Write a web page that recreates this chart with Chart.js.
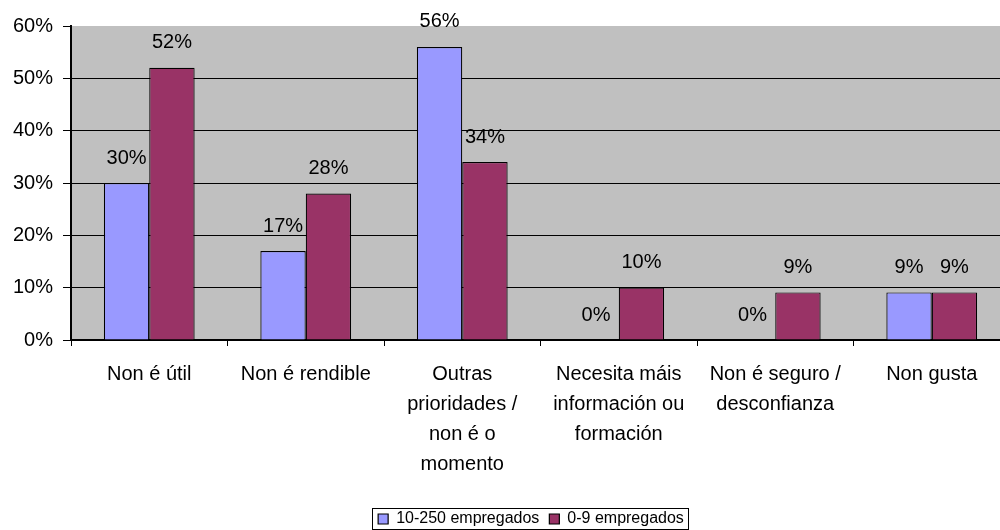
<!DOCTYPE html>
<html>
<head>
<meta charset="utf-8">
<script src="https://cdn.jsdelivr.net/npm/chart.js@4"></script>
<style>
  html, body { margin: 0; padding: 0; background: #fff; overflow: hidden; }
  #clip { width: 1000px; height: 530px; overflow: hidden; }
  #wrap { width: 1062px; height: 530px; }
</style>
</head>
<body>
<div id="clip"><div id="wrap"><canvas id="myChart"></canvas></div></div>
<script>
const categories = [
    "Non é útil",
    "Non é rendible",
    ["Outras", "prioridades /", "non é o", "momento"],
    ["Necesita máis", "información ou", "formación"],
    ["Non é seguro /", "desconfianza"],
    "Non gusta"
];
const medianas = [30, 17, 56, 0, 0, 9.1];   // 10-250 empregados
const micro = [52, 28, 34, 10, 9.1, 9.1];    // 0-9 empregados
const yTicks = [0, 10, 20, 30, 40, 50, 60];

const FONT = "'Liberation Sans', Arial, sans-serif";

// gray plot background
const plotBg = {
    id: 'plotBg',
    beforeDraw(chart) {
        const a = chart.chartArea;
        const ctx = chart.ctx;
        ctx.save();
        ctx.fillStyle = '#C0C0C0';
        ctx.fillRect(a.left, a.top, a.right - a.left, a.bottom - a.top);
        ctx.restore();
    }
};

// value labels above bars
const barLabels = {
    id: 'barLabels',
    afterDatasetsDraw(chart) {
        const ctx = chart.ctx;
        ctx.save();
        ctx.font = '20px ' + FONT;
        ctx.fillStyle = '#000';
        ctx.textAlign = 'center';
        ctx.textBaseline = 'middle';
        chart.data.datasets.forEach((ds, i) => {
            chart.getDatasetMeta(i).data.forEach((bar, j) => {
                ctx.fillText(Math.round(ds.data[j]) + '%', bar.x, bar.y - 25);
            });
        });
        ctx.restore();
    }
};

// box round the legend
const legendBox = {
    id: 'legendBox',
    afterDraw(chart) {
        const lg = chart.legend;
        if (!lg || !lg.legendHitBoxes.length) return;
        const boxes = lg.legendHitBoxes;
        const first = boxes[0], last = boxes[boxes.length - 1];
        const ctx = chart.ctx;
        ctx.save();
        ctx.strokeStyle = '#000';
        ctx.lineWidth = 1;
        const x0 = first.left - 6, x1 = last.left + last.width + 4;
        const y0 = first.top - 3, y1 = first.top + first.height + 2;
        ctx.strokeRect(Math.round(x0) + 0.5, Math.round(y0) + 0.5, Math.round(x1 - x0), Math.round(y1 - y0));
        ctx.restore();
    }
};

const ctx = document.getElementById('myChart').getContext('2d');
new Chart(ctx, {
    type: 'bar',
    data: {
        labels: categories,
        datasets: [{
            label: '10-250 empregados',
            data: medianas,
            backgroundColor: '#9999FF',
            borderColor: '#000',
            borderWidth: 1.2,
            categoryPercentage: 0.58,
            barPercentage: 1
        }, {
            label: '0-9 empregados',
            data: micro,
            backgroundColor: '#993366',
            borderColor: '#000',
            borderWidth: 1.2,
            categoryPercentage: 0.58,
            barPercentage: 1
        }]
    },
    options: {
        responsive: true,
        maintainAspectRatio: false,
        animation: false,
        layout: { padding: { top: 26, right: 0, left: 0, bottom: -7 } },
        plugins: {
            tooltip: { enabled: false },
            legend: {
                position: 'bottom',
                labels: {
                    font: { family: FONT, size: 16 },
                    color: '#000',
                    boxWidth: 10,
                    boxHeight: 10,
                    padding: 10,
                    useBorderRadius: false
                }
            }
        },
        scales: {
            x: {
                grid: {
                    offset: true,
                    drawOnChartArea: false,
                    drawTicks: true,
                    tickLength: 6,
                    color: '#000'
                },
                border: { color: '#000', width: 2 },
                ticks: {
                    color: '#000',
                    font: { family: FONT, size: 20, lineHeight: 1.5 },
                    padding: 13,
                    maxRotation: 0,
                    autoSkip: false
                },
                afterFit(scale) { scale.height = 161; }
            },
            y: {
                min: 0,
                max: 60,
                afterBuildTicks(scale) {
                    scale.ticks = yTicks.map(v => ({ value: v }));
                },
                grid: {
                    color: (c) => c.tick && c.tick.value === 60 ? 'rgba(0,0,0,0)' : '#000',
                    tickColor: '#000',
                    tickLength: 8,
                    lineWidth: 1
                },
                border: { color: '#000', width: 2 },
                ticks: {
                    color: '#000',
                    font: { family: FONT, size: 20 },
                    padding: 10,
                    callback: (v) => v + '%'
                },
                afterFit(scale) { scale.width = 71; }
            },
            // empty right-hand axis: only reserves room so the plot ends where the original does
            yRight: {
                position: 'right',
                min: 0,
                max: 60,
                grid: { display: false },
                border: { display: false },
                ticks: { display: false },
                afterFit(scale) { scale.width = 52; }
            }
        }
    },
    plugins: [plotBg, barLabels, legendBox]
});
</script>
</body>
</html>
